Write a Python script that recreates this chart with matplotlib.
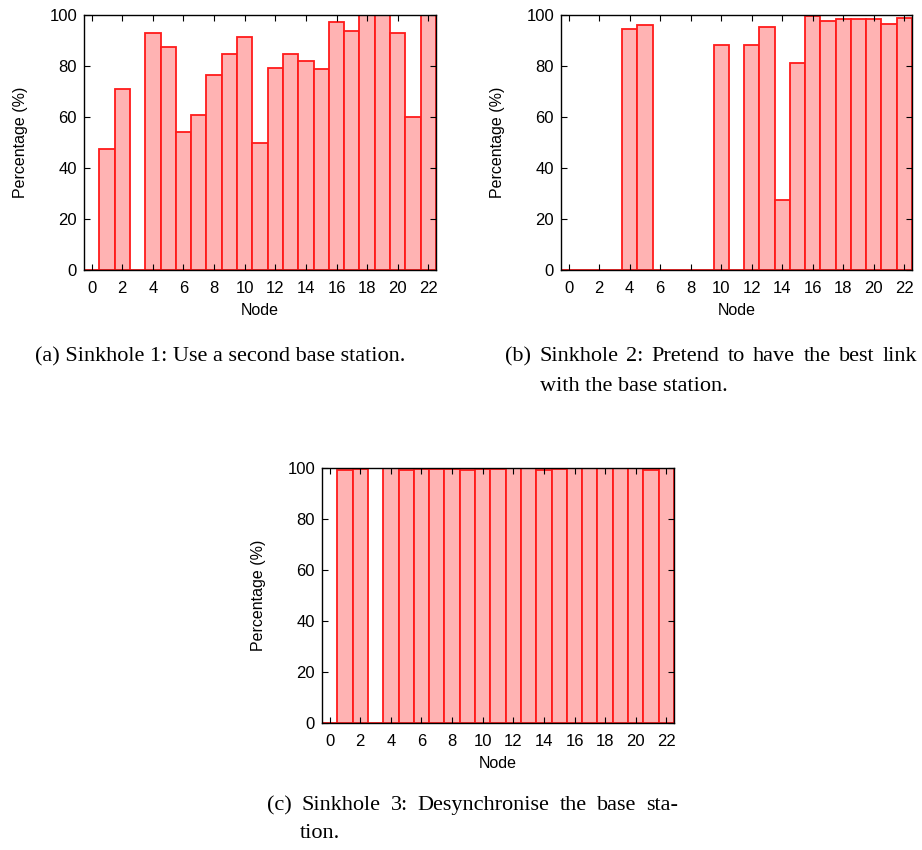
import numpy as np
import matplotlib.pyplot as plt

nodes = np.arange(23)

# percentage of packets per node for each sinkhole scenario
sinkhole1 = [0, 47.3, 70.9, 0, 93.1, 87.5, 54.0, 60.8, 76.6, 84.6, 91.5, 50.0,
             79.4, 84.9, 81.9, 79.0, 97.1, 93.7, 100, 100, 93.1, 60.1, 100]
sinkhole2 = [0, 0, 0, 0, 94.6, 96.0, 0, 0, 0, 0, 88.1, 0,
             88.3, 95.3, 27.4, 81.2, 99.5, 97.7, 98.3, 98.6, 98.3, 96.3, 98.8]
sinkhole3 = [0, 99.2, 99.6, 0, 99.9, 99.1, 99.6, 99.6, 99.6, 99.1, 99.6, 99.5,
             99.9, 100, 99.2, 99.7, 100, 100, 100, 100, 100, 99.2, 100]

cap_a = "(a) Sinkhole 1: Use a second base station."
cap_b = ["(b) Sinkhole 2: Pretend to have the best link", "with the base station."]
cap_c = ["(c) Sinkhole 3: Desynchronise the base sta-", "tion."]

W, H = 922, 850
fig = plt.figure(figsize=(W / 100, H / 100), dpi=100)
plt.rcParams['font.family'] = 'Liberation Sans'
serif = 'Liberation Serif'


def make_axes(left, top, right, bottom):
    return fig.add_axes([left / W, 1 - bottom / H, (right - left) / W, (bottom - top) / H])


def draw(ax, values):
    ax.bar(nodes, values, width=1.0, color='#ffb3b3', edgecolor='#ff1a1a', linewidth=1.3)
    ax.set_xlim(-0.5, 22.5)
    ax.set_ylim(0, 100)
    ax.set_xticks(range(0, 23, 2))
    ax.set_yticks(range(0, 101, 20))
    ax.tick_params(direction='in', top=True, right=True, length=4, labelsize=12)
    ax.tick_params(axis='x', pad=8)
    ax.tick_params(axis='y', pad=5)
    ax.set_xlabel('Node', fontsize=11.5, labelpad=5)
    ax.set_ylabel('Percentage (%)', fontsize=11.5, labelpad=15)
    for s in ax.spines.values():
        s.set_linewidth(1.0)
        s.set_zorder(3)


# caption line; if x1 is given, words are spread out to end at x1
def caption_line(x0, y, text, x1=None):
    if x1 is None:
        fig.text(x0 / W, 1 - y / H, text, family=serif, fontsize=16, va='baseline')
        return
    r = fig.canvas.get_renderer()
    words = text.split()
    arts = [fig.text(0, 1 - y / H, w, family=serif, fontsize=16, va='baseline') for w in words]
    widths = [a.get_window_extent(r).width for a in arts]
    gap = (x1 - x0 - sum(widths)) / (len(words) - 1)
    x = x0
    for a, w in zip(arts, widths):
        a.set_x(x / W)
        x += w + gap


ax1 = make_axes(84, 15, 436, 270)
ax2 = make_axes(561, 15, 912, 270)
ax3 = make_axes(322, 468, 674, 723)
draw(ax1, sinkhole1)
draw(ax2, sinkhole2)
draw(ax3, sinkhole3)

caption_line(35, 361, cap_a)
caption_line(505, 361, cap_b[0], x1=917)
caption_line(540, 391, cap_b[1])
caption_line(267, 810, cap_c[0], x1=678)
caption_line(300, 838, cap_c[1])

fig.savefig('out.png', dpi=100)
